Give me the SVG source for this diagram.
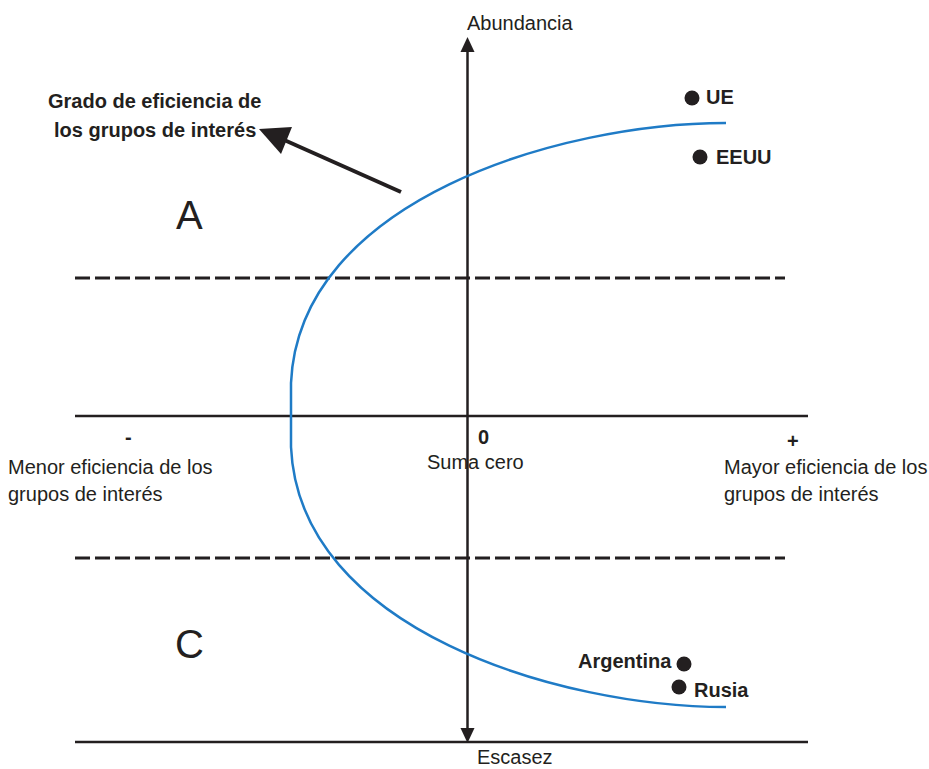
<svg xmlns="http://www.w3.org/2000/svg" width="929" height="769" viewBox="0 0 929 769">
<defs>
<style>
text{font-family:"Liberation Sans",Arial,sans-serif;fill:#231f20}
.r{font-size:20px}
.b{font-size:20px;font-weight:bold}
.big{font-size:40px}
.ax{stroke:#231f20;stroke-width:2.5;fill:none}
.dash{stroke:#231f20;stroke-width:3;stroke-dasharray:15 5;fill:none}
.curve{stroke:#1f7bc6;stroke-width:2.5;fill:none}
.dot{fill:#231f20}
</style>
</defs>
<rect width="929" height="769" fill="#fff"/>
<g id="connectors">
<line class="ax" x1="75" y1="416" x2="808" y2="416"/>
<line class="ax" x1="75" y1="742" x2="808" y2="742"/>
<line class="dash" x1="75" y1="278" x2="785" y2="278"/>
<line class="dash" x1="75" y1="558" x2="785" y2="558"/>
<line class="ax" x1="467.5" y1="50" x2="467.5" y2="730"/>
<polygon points="467.5,37 460.5,52 474.5,52" fill="#231f20"/>
<polygon points="467.5,743 460.5,728 474.5,728" fill="#231f20"/>
<path class="curve" d="M726,123 C560,123 299,200 291,383 L291,447 C299,630 560,707 726,707"/>
<line x1="401" y1="192" x2="282" y2="139" stroke="#231f20" stroke-width="4"/>
<polygon points="259,129 281,154 292,127" fill="#231f20"/>
</g>
<g id="labels">
<text class="r" x="467" y="30">Abundancia</text>
<text class="r" x="477" y="764">Escasez</text>
<text class="b" x="48" y="108">Grado de eficiencia de</text>
<text class="b" x="54" y="137">los grupos de interés</text>
<text class="big" x="176" y="229">A</text>
<text class="big" x="175" y="658">C</text>
<text class="b" x="125" y="444">-</text>
<text class="b" x="478" y="444">0</text>
<text class="b" x="787" y="448">+</text>
<text class="r" x="8" y="474">Menor eficiencia de los</text>
<text class="r" x="8" y="501">grupos de interés</text>
<text class="r" x="427" y="469">Suma cero</text>
<text class="r" x="724" y="474">Mayor eficiencia de los</text>
<text class="r" x="724" y="501">grupos de interés</text>
</g>
<g id="node-UE">
<circle class="dot" cx="692" cy="98" r="7.5"/>
<text class="b" x="706" y="104">UE</text>
</g>
<g id="node-EEUU">
<circle class="dot" cx="700" cy="157" r="7.5"/>
<text class="b" x="716" y="164">EEUU</text>
</g>
<g id="node-Argentina">
<circle class="dot" cx="684" cy="664" r="7.5"/>
<text class="b" x="578" y="668">Argentina</text>
</g>
<g id="node-Rusia">
<circle class="dot" cx="679" cy="687" r="7.5"/>
<text class="b" x="694" y="697">Rusia</text>
</g>
</svg>
